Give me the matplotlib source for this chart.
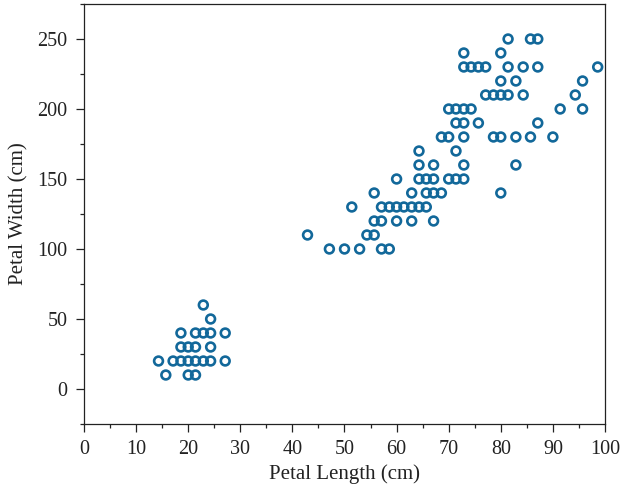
import matplotlib.pyplot as plt
from matplotlib.ticker import MultipleLocator

# values, grouped by petal width row
rows = {
    250: [81.4, 85.7, 87.1],
    240: [72.9, 80.0],
    230: [72.9, 74.3, 75.7, 77.1, 81.4, 84.3, 87.1, 98.6],
    220: [80.0, 82.9, 95.7],
    210: [77.1, 78.6, 80.0, 81.4, 84.3, 94.3],
    200: [70.0, 71.4, 72.9, 74.3, 91.4, 95.7],
    190: [71.4, 72.9, 75.7, 87.1],
    180: [68.6, 70.0, 72.9, 78.6, 80.0, 82.9, 85.7, 90.0],
    170: [64.3, 71.4],
    160: [64.3, 67.1, 72.9, 82.9],
    150: [60.0, 64.3, 65.7, 67.1, 70.0, 71.4, 72.9],
    140: [55.7, 62.9, 65.7, 67.1, 68.6, 80.0],
    130: [51.4, 57.1, 58.6, 60.0, 61.4, 62.9, 64.3, 65.7],
    120: [55.7, 57.1, 60.0, 62.9, 67.1],
    110: [42.9, 54.3, 55.7],
    100: [47.1, 50.0, 52.9, 57.1, 58.6],
    60: [22.9],
    50: [24.3],
    40: [18.6, 21.4, 22.9, 24.3, 27.1],
    30: [18.6, 20.0, 21.4, 24.3],
    20: [14.3, 17.1, 18.6, 20.0, 21.4, 22.9, 24.3, 27.1],
    10: [15.7, 20.0, 21.4],
}

petal_length = [x for w, xs in rows.items() for x in xs]
petal_width = [w for w, xs in rows.items() for x in xs]

plt.rcParams['font.family'] = ['Liberation Serif', 'DejaVu Serif']

fig = plt.figure(figsize=(6.21, 4.92), dpi=100)
ax = fig.add_axes([0.1353, 0.1382, 0.8389, 0.8537])

ax.scatter(petal_length, petal_width, s=40, facecolors='none',
           edgecolors='#12689a', linewidths=1.9, zorder=3)

ax.set_xlim(0, 100)
ax.set_ylim(-25, 275)
ax.xaxis.set_major_locator(MultipleLocator(10))
ax.xaxis.set_minor_locator(MultipleLocator(5))
ax.yaxis.set_major_locator(MultipleLocator(50))
ax.yaxis.set_minor_locator(MultipleLocator(25))
ax.set_yticks(range(0, 251, 50))

ax.tick_params(which='both', direction='out', top=False, right=False,
               labelsize=14.5, colors='#222222', width=0.9)
ax.tick_params(which='major', length=5.5)
ax.tick_params(axis='x', which='major', pad=6)
ax.tick_params(axis='y', which='major', pad=6.5)
ax.tick_params(which='minor', length=3)
for sp in ax.spines.values():
    sp.set_linewidth(0.9)
    sp.set_color('#222222')

ax.set_xlabel("Petal Length (cm)", fontsize=15, color='#222222', labelpad=4)
ax.set_ylabel("Petal Width (cm)", fontsize=15, color='#222222', labelpad=6)

fig.savefig("out.png", dpi=100)
